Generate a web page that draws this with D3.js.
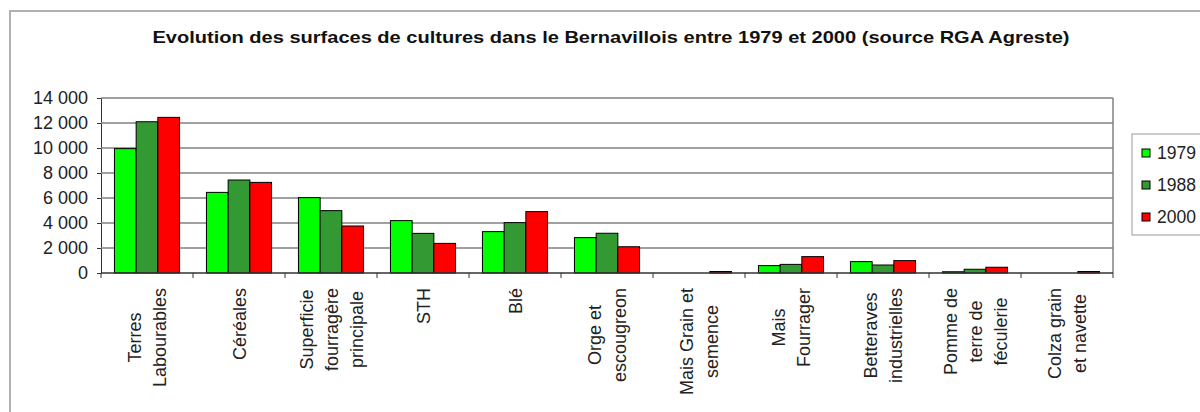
<!DOCTYPE html>
<html>
<head>
<meta charset="utf-8">
<script src="https://cdn.jsdelivr.net/npm/d3@7"></script>
<style>
  body { margin: 0; background: #fff; }
  svg { display: block; font-family: "Liberation Sans", Arial, sans-serif; }
</style>
</head>
<body>
<div id="container"></div>
<script>
var w = 1200;
var h = 412;

// categories (line breaks as in the original axis)
var categories = [
  "Terres\nLabourables", "Céréales", "Superficie\nfourragère\nprincipale", "STH", "Blé",
  "Orge et\nescougreon", "Mais Grain et\nsemence", "Mais\nFourrager",
  "Betteraves\nindustrielles", "Pomme de\nterre de\nféculerie", "Colza grain\net navette"
];
var years = ["1979", "1988", "2000"];
var v1979 = [9950, 6450, 6030, 4190, 3310, 2830, 0, 590, 910, 100, 0];
var v1988 = [12100, 7440, 4990, 3170, 4030, 3180, 0, 690, 640, 300, 0];
var v2000 = [12450, 7250, 3760, 2370, 4910, 2100, 120, 1310, 990, 460, 120];
var yTicks = [0, 2000, 4000, 6000, 8000, 10000, 12000, 14000];
var title = "Evolution des surfaces de cultures dans le Bernavillois entre 1979 et 2000 (source RGA Agreste)";

var series = [v1979, v1988, v2000];
var color = d3.scaleOrdinal().domain(years).range(["#00ff00", "#339933", "#ff0000"]);

var svg = d3.select("div#container").append("svg")
    .attr("width", w).attr("height", h)
    .style("background-color", "white");

// outer frame
svg.append("rect")
    .attr("x", 10).attr("y", 11).attr("width", 1220).attr("height", 430)
    .attr("fill", "none").attr("stroke", "#b0b0b0").attr("stroke-width", 2);

var pLeft = 101, pRight = 1113, pTop = 98, pBottom = 273;

var x0 = d3.scaleBand().domain(d3.range(categories.length)).range([pLeft, pRight]).padding(0);
var x1 = d3.scaleBand().domain(years).range([0, x0.bandwidth()]).paddingInner(0).paddingOuter(0.62);
var y = d3.scaleLinear().domain([0, 14000]).range([pBottom, pTop]);

var fr = d3.formatLocale({ decimal: ",", thousands: " ", grouping: [3], currency: ["", " €"] });
var fmt = fr.format(",d");

// title
svg.append("text")
    .attr("x", 611).attr("y", 43)
    .attr("text-anchor", "middle")
    .attr("font-weight", "bold")
    .attr("font-size", 17)
    .attr("fill", "#111")
    .attr("textLength", 917).attr("lengthAdjust", "spacingAndGlyphs")
    .text(title);

// grid + y axis
var yAxis = svg.append("g")
    .attr("transform", "translate(" + pLeft + ",0)")
    .call(d3.axisLeft(y).tickValues(yTicks).tickFormat(fmt).tickSize(4).tickPadding(9));
yAxis.select(".domain").attr("stroke", "#333");
yAxis.selectAll(".tick line").attr("stroke", "#333");
yAxis.selectAll("text").attr("font-size", 18).attr("fill", "#222")
    .attr("font-family", "Liberation Sans, Arial, sans-serif");

svg.append("g").selectAll("line")
  .data(yTicks.filter(function(d) { return d > 0; }))
  .enter().append("line")
    .attr("x1", pLeft).attr("x2", pRight)
    .attr("y1", function(d) { return y(d); })
    .attr("y2", function(d) { return y(d); })
    .attr("stroke", "#808080").attr("stroke-width", 1.5);

// right border of plot area
svg.append("line")
    .attr("x1", pRight).attr("x2", pRight).attr("y1", pTop).attr("y2", pBottom)
    .attr("stroke", "#808080").attr("stroke-width", 1.5);

// bars
var groups = svg.append("g").selectAll("g")
  .data(categories)
  .enter().append("g")
    .attr("transform", function(d, i) { return "translate(" + x0(i) + ",0)"; });

groups.selectAll("rect")
  .data(function(d, i) {
    return years.map(function(yr, k) { return { year: yr, value: series[k][i] }; })
      .filter(function(e) { return e.value > 0; });
  })
  .enter().append("rect")
    .attr("x", function(d) { return x1(d.year); })
    .attr("width", x1.bandwidth())
    .attr("y", function(d) { return y(d.value); })
    .attr("height", function(d) { return y(0) - y(d.value); })
    .attr("fill", function(d) { return color(d.year); })
    .attr("stroke", "#000").attr("stroke-width", 1);

// x axis
var xAxis = svg.append("g")
    .attr("transform", "translate(0," + pBottom + ")");
xAxis.append("line")
    .attr("x1", pLeft).attr("x2", pRight)
    .attr("stroke", "#333").attr("stroke-width", 1.5);
xAxis.selectAll(".tk")
  .data(d3.range(categories.length + 1))
  .enter().append("line")
    .attr("class", "tk")
    .attr("x1", function(i) { return pLeft + i * x0.step(); })
    .attr("x2", function(i) { return pLeft + i * x0.step(); })
    .attr("y1", 0).attr("y2", 5)
    .attr("stroke", "#333");

// category labels, rotated, lines centred on each other, block ending at top
var labelTop = 288, lineGap = 25;
categories.forEach(function(c, i) {
  var lines = c.split("\n");
  var cx = x0(i) + x0.bandwidth() / 2;
  var g = svg.append("g");
  var texts = lines.map(function(l, j) {
    var lx = cx + (j - (lines.length - 1) / 2) * lineGap + 6.5;
    return g.append("text")
      .attr("font-size", 18)
      .attr("fill", "#222")
      .attr("text-anchor", "middle")
      .attr("data-x", lx)
      .text(l);
  });
  var maxLen = d3.max(texts, function(tx) { return tx.node().getComputedTextLength(); });
  texts.forEach(function(tx) {
    var lx = +tx.attr("data-x");
    tx.attr("transform", "translate(" + lx + "," + (labelTop + maxLen / 2) + ") rotate(-90)");
  });
});

// legend
var lg = svg.append("g");
lg.append("rect")
    .attr("x", 1132).attr("y", 134).attr("width", 100).attr("height", 101)
    .attr("fill", "#fff").attr("stroke", "#999").attr("stroke-width", 1);
var li = lg.selectAll(".li")
  .data(years)
  .enter().append("g")
    .attr("class", "li")
    .attr("transform", function(d, i) { return "translate(1142," + (153 + i * 32) + ")"; });
li.append("rect")
    .attr("x", 0).attr("y", -4).attr("width", 8).attr("height", 8)
    .attr("fill", function(d) { return color(d); })
    .attr("stroke", "#000");
li.append("text")
    .attr("x", 15).attr("y", 0).attr("dy", "0.35em")
    .attr("font-size", 17.5).attr("fill", "#222")
    .text(function(d) { return d; });
</script>
</body>
</html>
